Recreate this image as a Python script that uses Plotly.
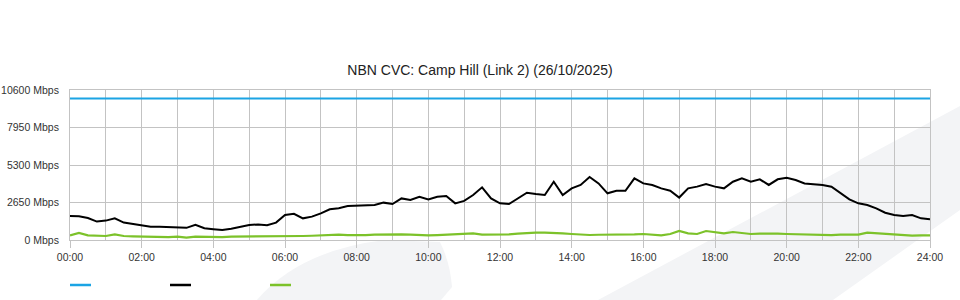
import plotly.graph_objects as go

# time axis in hours (15-minute samples)
hours = [i * 0.25 for i in range(97)]

x_tick_vals = [0, 2, 4, 6, 8, 10, 12, 14, 16, 18, 20, 22, 24]
x_tick_text = ["00:00", "02:00", "04:00", "06:00", "08:00", "10:00", "12:00",
               "14:00", "16:00", "18:00", "20:00", "22:00", "24:00"]
x_minor_vals = [1, 3, 5, 7, 9, 11, 13, 15, 17, 19, 21, 23]

y_tick_vals = [0, 2650, 5300, 7950, 10600]
y_tick_text = ["0 Mbps", "2650 Mbps", "5300 Mbps", "7950 Mbps", "10600 Mbps"]

# capacity (blue), Mbps
capacity = [10000] * 97

# utilisation (black), Mbps - one row per hour (4 quarter-hours), last = 24:00
usage = [
    1700, 1680, 1550, 1300,
    1370, 1530, 1230, 1130,
    990, 940, 940, 930,
    890, 860, 1080, 830,
    760, 700, 800, 940,
    1060, 1100, 1040, 1230,
    1770, 1850, 1530, 1650,
    1880, 2170, 2240, 2400,
    2420, 2420, 2470, 2640,
    2540, 2940, 2830, 3060,
    2870, 3060, 3110, 2590,
    2760, 3180, 3720, 2940,
    2590, 2540, 2940, 3340,
    3250, 3180, 4120, 3180,
    3650, 3890, 4450, 4000,
    3300, 3480, 3480, 4360,
    4000, 3890, 3650, 3480,
    3000, 3650, 3770, 3960,
    3770, 3650, 4120, 4360,
    4120, 4290, 3890, 4290,
    4400, 4240, 4000, 3960,
    3890, 3770, 3300, 2870,
    2590, 2470, 2240, 1930,
    1770, 1700, 1770, 1530,
    1460,
]

# second series (green), Mbps
other = [
    330, 500, 330, 300,
    283, 400, 283, 260,
    236, 210, 189, 210,
    236, 165, 236, 210,
    189, 210, 236, 236,
    259, 259, 259, 270,
    283, 283, 283, 300,
    330, 350, 377, 350,
    330, 350, 377, 400,
    424, 400, 377, 350,
    330, 350, 377, 400,
    424, 471, 377, 377,
    377, 400, 447, 500,
    518, 518, 518, 470,
    424, 380, 353, 370,
    377, 353, 353, 400,
    424, 380, 330, 424,
    635, 471, 424, 635,
    565, 471, 565, 471,
    424, 450, 471, 450,
    424, 400, 377, 350,
    330, 350, 377, 377,
    377, 518, 471, 424,
    377, 330, 306, 320,
    330,
]

BLUE = "#1ba4e4"
BLACK = "#000000"
GREEN = "#7cc22a"
GRID = "#c3c3c3"

W, H = 960, 300
L, R, T, B = 70, 30, 90, 60
PW, PH = W - L - R, H - T - B


def px(xp):
    return (xp - L) / PW


def py(yp):
    return (H - B - yp) / PH


fig = go.Figure()
fig.add_trace(go.Scatter(x=hours, y=capacity, mode="lines",
                         line=dict(color=BLUE, width=2.2), name=""))
fig.add_trace(go.Scatter(x=hours, y=usage, mode="lines",
                         line=dict(color=BLACK, width=2), name=""))
fig.add_trace(go.Scatter(x=hours, y=other, mode="lines",
                         line=dict(color=GREEN, width=2.2), name=""))

shapes = []
# faint background decoration
band = [(598, 300), (960, 106), (960, 210), (833, 300)]
path = "M " + " L ".join(f"{px(a):.4f},{py(b):.4f}" for a, b in band) + " Z"
shapes.append(dict(type="path", xref="paper", yref="paper", path=path,
                   fillcolor="#f3f4f6", line=dict(width=0), layer="below"))
swoosh = (f"M {px(257):.4f},{py(300):.4f} "
          f"Q {px(300):.4f},{py(250):.4f} {px(385):.4f},{py(240):.4f} "
          f"L {px(440):.4f},{py(242):.4f} "
          f"Q {px(450):.4f},{py(262):.4f} {px(452):.4f},{py(287):.4f} "
          f"L {px(441):.4f},{py(300):.4f} Z")
shapes.append(dict(type="path", xref="paper", yref="paper", path=swoosh,
                   fillcolor="#f3f4f6", line=dict(width=0), layer="below"))

# legend swatches (unlabelled)
for x0, col in [(70, BLUE), (170, BLACK), (270, GREEN)]:
    shapes.append(dict(type="line", xref="paper", yref="paper",
                       x0=px(x0), x1=px(x0 + 21), y0=py(285), y1=py(285),
                       line=dict(color=col, width=2.5)))

fig.update_layout(
    width=W, height=H,
    margin=dict(l=L, r=R, t=T, b=B, pad=0, autoexpand=False),
    paper_bgcolor="white",
    plot_bgcolor="rgba(0,0,0,0)",
    showlegend=False,
    font=dict(family="Liberation Sans, Arial, sans-serif", size=10.5, color="#333333"),
    title=dict(text="NBN CVC: Camp Hill (Link 2) (26/10/2025)",
               x=0.5, xanchor="center", y=1 - 70 / H, yanchor="middle",
               font=dict(size=14, color="#222222")),
    shapes=shapes,
)

fig.update_xaxes(
    range=[0, 24], tickmode="array", tickvals=x_tick_vals, ticktext=x_tick_text,
    showgrid=True, gridcolor=GRID, gridwidth=1,
    minor=dict(tickmode="array", tickvals=x_minor_vals, showgrid=True,
               gridcolor=GRID, gridwidth=1, ticks=""),
    ticks="outside", ticklen=7, tickcolor=GRID, automargin=False,
    showline=True, linecolor=GRID, mirror=True, zeroline=False,
)
fig.update_yaxes(
    range=[0, 10600], tickmode="array", tickvals=y_tick_vals, ticktext=y_tick_text,
    showgrid=True, gridcolor=GRID, gridwidth=1,
    ticks="outside", ticklen=8, tickcolor="rgba(0,0,0,0)", automargin=False,
    showline=True, linecolor=GRID, mirror=True, zeroline=False,
)

fig.write_html("out.html")
